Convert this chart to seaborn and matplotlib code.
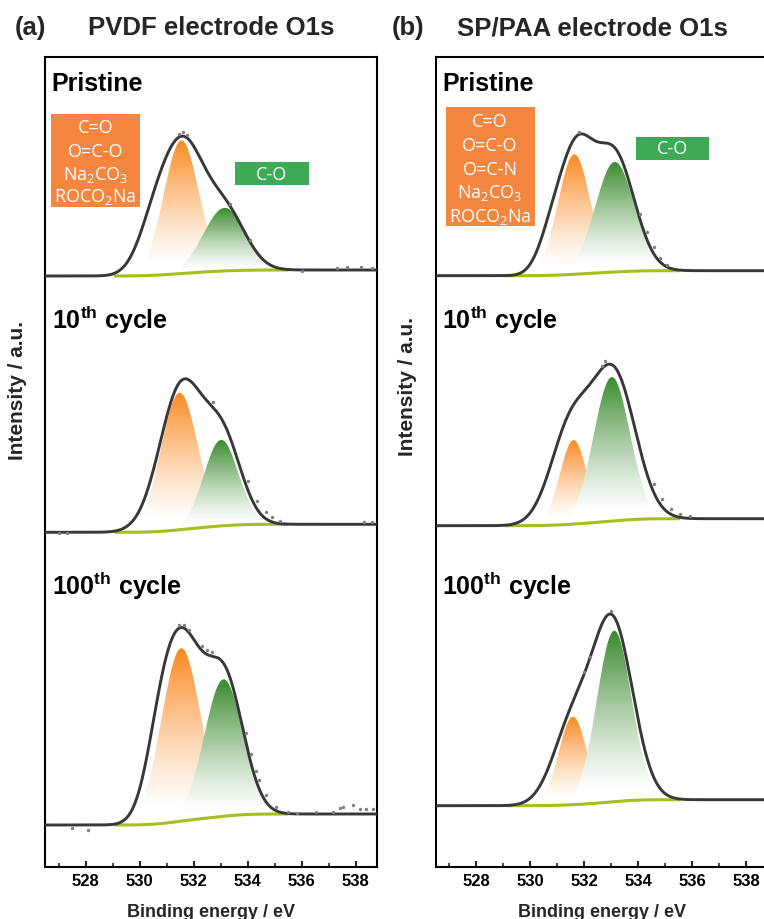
import numpy as np
import matplotlib
matplotlib.use("Agg")
import matplotlib.pyplot as plt
import seaborn as sns
from matplotlib.colors import LinearSegmentedColormap
from matplotlib.patches import PathPatch, Rectangle
from matplotlib.path import Path

sns.set_theme(style="ticks")
plt.rcParams["font.family"] = ["Liberation Sans", "DejaVu Sans"]
plt.rcParams["mathtext.fontset"] = "custom"
plt.rcParams["mathtext.rm"] = "Open Sans"
plt.rcParams["mathtext.bf"] = "Liberation Sans:bold"

# ---------------- data ----------------
E_LIMITS = (526.5, 538.8)
FIT_WINDOW = (529.1, 535.5)
X_TICKS = [528, 530, 532, 534, 536, 538]
STAGE_LABELS = ["Pristine", "10$^{\\mathbf{th}}$ cycle", "100$^{\\mathbf{th}}$ cycle"]
STAGE_LABEL_Y = [777, 539, 273]

# PVDF electrode, O1s: baseline level (low-BE side), Shirley step, fit components
pvdf_baseline = [591, 334.7, 42]
pvdf_step = [6, 8, 11]
pvdf_fit_center = [[530.5, 531.6, 533.2], [531.55, 533.1], [530.75, 531.6, 533.15]]
pvdf_fit_height = [[35, 125, 56], [143, 82], [55, 165, 135]]
pvdf_fit_sigma = [[0.60, 0.78, 0.75], [0.80, 0.68], [0.55, 0.72, 0.70]]
# highlighted components: carbonate/carbonyl (orange) and C-O (green)
pvdf_co3_center = [531.55, 531.48, 531.54]
pvdf_co3_height = [133, 137, 173]
pvdf_co3_sigma = [0.65, 0.68, 0.72]
pvdf_co_center = [533.15, 533.02, 533.11]
pvdf_co_height = [63, 86, 137]
pvdf_co_sigma = [0.78, 0.64, 0.71]
# measured points that sit off the fitted envelope (energy, offset)
pvdf_dot_e = [[531.45, 531.6, 531.75, 533.35, 534.1, 536.0, 537.3, 537.7, 538.2, 538.6],
              [527.0, 527.3, 532.72, 534.0, 534.35, 534.69, 534.9, 535.2, 538.3, 538.6],
              [527.5, 528.1, 531.45, 531.65, 531.85, 532.3, 532.5, 532.7, 533.95, 534.14,
               534.32, 534.44, 534.69, 535.06, 535.5, 535.85, 536.54, 537.16, 537.41,
               537.53, 537.9, 538.15, 538.4, 538.65]]
pvdf_dot_dy = [[3, 4, 3, 2, 2, -1, 2, 3, 3, 2],
               [-1, -1, 5, 8, 8, 7, 5, 3, 2, 2],
               [-3, -5, 3, 3, 3, 4, 4, 4, 10, 10, 10, 9, 7, 4, 2, 1, 2, 2, 6, 7, 9, 5, 5, 5]]

# SP/PAA electrode, O1s
paa_baseline = [591.3, 341.3, 61.3]
paa_step = [5, 7, 6]
paa_fit_center = [[530.8, 531.7, 533.1], [531.5, 533.1], [531.55, 533.05]]
paa_fit_height = [[35, 110, 118], [95, 145], [77, 178]]
paa_fit_sigma = [[0.50, 0.60, 0.75], [0.75, 0.80], [0.72, 0.75]]
paa_co3_center = [531.63, 531.6, 531.58]
paa_co3_height = [120, 84, 88]
paa_co3_sigma = [0.60, 0.50, 0.52]
paa_co_center = [533.13, 533.02, 533.11]
paa_co_height = [110, 144, 171]
paa_co_sigma = [0.72, 0.67, 0.64]
paa_dot_e = [[531.8, 534.07, 534.32, 534.57, 534.81, 535.06],
             [532.65, 532.78, 534.57, 534.88, 535.2, 535.56, 535.9],
             [532.0, 532.2, 533.0]]
paa_dot_dy = [[3, 6, 7, 6, 4, 2],
              [3, 5, 8, 8, 5, 3, 2],
              [2, 2, 3]]

PVDF_TAGS = ["C=O", "O=C-O", "Na$_2$CO$_3$", "ROCO$_2$Na"]
PAA_TAGS = ["C=O", "O=C-O", "O=C-N", "Na$_2$CO$_3$", "ROCO$_2$Na"]

# ---------------- style ----------------
ORANGE_FILL = "#FB8A22"
GREEN_FILL = "#3A8A2E"
ORANGE_BOX = "#F4863F"
GREEN_BOX = "#3EAA55"
ENVELOPE = "#383838"
BACKGROUND = "#A8BE1E"
DOTS = "#808080"

E = np.linspace(E_LIMITS[0], E_LIMITS[1], 1231)
in_window = (E >= FIT_WINDOW[0]) & (E <= FIT_WINDOW[1])


def gauss(x, c, h, s):
    return h * np.exp(-(x - c) ** 2 / (2 * s ** 2))


def shirley(peaks, left, step):
    cum = np.cumsum(peaks)
    return left + step * cum / cum[-1]


def shaded_peak(ax, base, peak, color, z):
    top = base + peak
    mask = peak > 0.5
    xs = E[mask]
    verts = np.concatenate([np.column_stack([xs, base[mask]]),
                            np.column_stack([xs[::-1], top[mask][::-1]])])
    patch = PathPatch(Path(verts), transform=ax.transData, facecolor="none",
                      edgecolor="none")
    ax.add_patch(patch)
    cmap = LinearSegmentedColormap.from_list("fade", ["#FFFFFF", color])
    t = np.linspace(0, 1, 256)
    grad = (np.clip((t - 0.08) / 0.92, 0, 1) ** 1.25).reshape(-1, 1)
    im = ax.imshow(grad, extent=[xs.min(), xs.max(), base[mask].min(), top.max()],
                   origin="lower", aspect="auto", cmap=cmap, vmin=0, vmax=1,
                   zorder=z, interpolation="bilinear")
    im.set_clip_path(patch)


def draw_panel(ax, baseline, step, fc, fh, fs, oc, oh, os_, gc, gh, gs, dot_e, dot_dy):
    for i in range(3):
        peaks = np.zeros_like(E)
        for c, h, s in zip(fc[i], fh[i], fs[i]):
            peaks += gauss(E, c, h, s)
        bg = shirley(peaks, baseline[i], step[i])
        envelope = bg + peaks

        orange = gauss(E, oc[i], oh[i], os_[i])
        green = gauss(E, gc[i], gh[i], gs[i])
        shaded_peak(ax, bg, orange, ORANGE_FILL, 2)
        shaded_peak(ax, bg, green, GREEN_FILL, 3)

        sns.lineplot(x=E[in_window], y=bg[in_window], ax=ax, color=BACKGROUND,
                     linewidth=2.2, estimator=None, sort=False, zorder=4)
        sns.lineplot(x=E, y=envelope, ax=ax, color=ENVELOPE, linewidth=2.1,
                     estimator=None, sort=False, zorder=5)
        de = np.array(dot_e[i])
        dy = np.interp(de, E, envelope) + np.array(dot_dy[i])
        sns.scatterplot(x=de, y=dy, ax=ax, color=DOTS, s=6, linewidth=0, zorder=6)

        ax.text(526.75, STAGE_LABEL_Y[i], STAGE_LABELS[i], fontsize=18,
                fontweight="bold", va="baseline", ha="left", color="black", zorder=8)


def tag_box(ax, x0, x1, y0, y1, color, lines, ys):
    ax.add_patch(Rectangle((x0, y0), x1 - x0, y1 - y0, facecolor=color,
                           edgecolor="none", zorder=7))
    for t, y in zip(lines, ys):
        ax.text((x0 + x1) / 2, y, t, color="white", fontsize=13, ha="center",
                va="center", family=["Open Sans", "DejaVu Sans"], zorder=8)


fig = plt.figure(figsize=(7.64, 9.2), dpi=100)
W, H = 764, 920
ax_a = fig.add_axes([45 / W, 52 / H, 332.1 / W, 810 / H])
ax_b = fig.add_axes([435.7 / W, 52 / H, 332.1 / W, 810 / H])

draw_panel(ax_a, pvdf_baseline, pvdf_step, pvdf_fit_center, pvdf_fit_height, pvdf_fit_sigma,
           pvdf_co3_center, pvdf_co3_height, pvdf_co3_sigma,
           pvdf_co_center, pvdf_co_height, pvdf_co_sigma, pvdf_dot_e, pvdf_dot_dy)
draw_panel(ax_b, paa_baseline, paa_step, paa_fit_center, paa_fit_height, paa_fit_sigma,
           paa_co3_center, paa_co3_height, paa_co3_sigma,
           paa_co_center, paa_co_height, paa_co_sigma, paa_dot_e, paa_dot_dy)

tag_box(ax_a, 526.73, 530.0, 660, 753, ORANGE_BOX, PVDF_TAGS, [740, 716, 693, 671])
tag_box(ax_a, 533.52, 536.26, 682, 705, GREEN_BOX, ["C-O"], [693.5])
tag_box(ax_b, 526.87, 530.16, 641, 760, ORANGE_BOX, PAA_TAGS, [746, 722, 698, 675, 651])
tag_box(ax_b, 533.93, 536.63, 707, 730, GREEN_BOX, ["C-O"], [718.5])

for ax in (ax_a, ax_b):
    ax.set_xlim(*E_LIMITS)
    ax.set_ylim(0, 810)
    ax.set_yticks([])
    ax.set_ylabel("")
    ax.set_xticks(X_TICKS)
    ax.set_xticklabels([str(t) for t in X_TICKS], fontsize=12, fontweight="bold")
    ax.set_xticks(np.arange(527, 539, 2), minor=True)
    ax.tick_params(axis="x", which="major", direction="in", length=4.5, width=1.2,
                   pad=4, colors="black")
    ax.tick_params(axis="x", which="minor", direction="in", length=3, width=1.2)
    ax.tick_params(axis="y", left=False, right=False)
    for sp in ax.spines.values():
        sp.set_visible(True)
        sp.set_color("black")
        sp.set_linewidth(1.5)
    ax.set_xlabel("Binding energy / eV", fontsize=13, fontweight="bold", va="center")
    ax.xaxis.set_label_coords(0.5, -0.0555)
    ax.set_facecolor("white")

fig.text(15 / W, 1 - 35 / H, "(a)", fontsize=18.5, fontweight="bold", va="baseline")
fig.text(88 / W, 1 - 35 / H, "PVDF electrode O1s", fontsize=18.5, fontweight="bold",
         va="baseline")
fig.text(392 / W, 1 - 35 / H, "(b)", fontsize=18.5, fontweight="bold", va="baseline")
fig.text(457 / W, 1 - 35 / H, "SP/PAA electrode O1s", fontsize=18.5, fontweight="bold",
         va="baseline")
fig.text(18 / W, 1 - 391 / H, "Intensity / a.u.", rotation=90, fontsize=15,
         fontweight="bold", ha="center", va="center")
fig.text(407.5 / W, 1 - 387 / H, "Intensity / a.u.", rotation=90, fontsize=15,
         fontweight="bold", ha="center", va="center")

fig.savefig("out.png", dpi=100, facecolor="white")
